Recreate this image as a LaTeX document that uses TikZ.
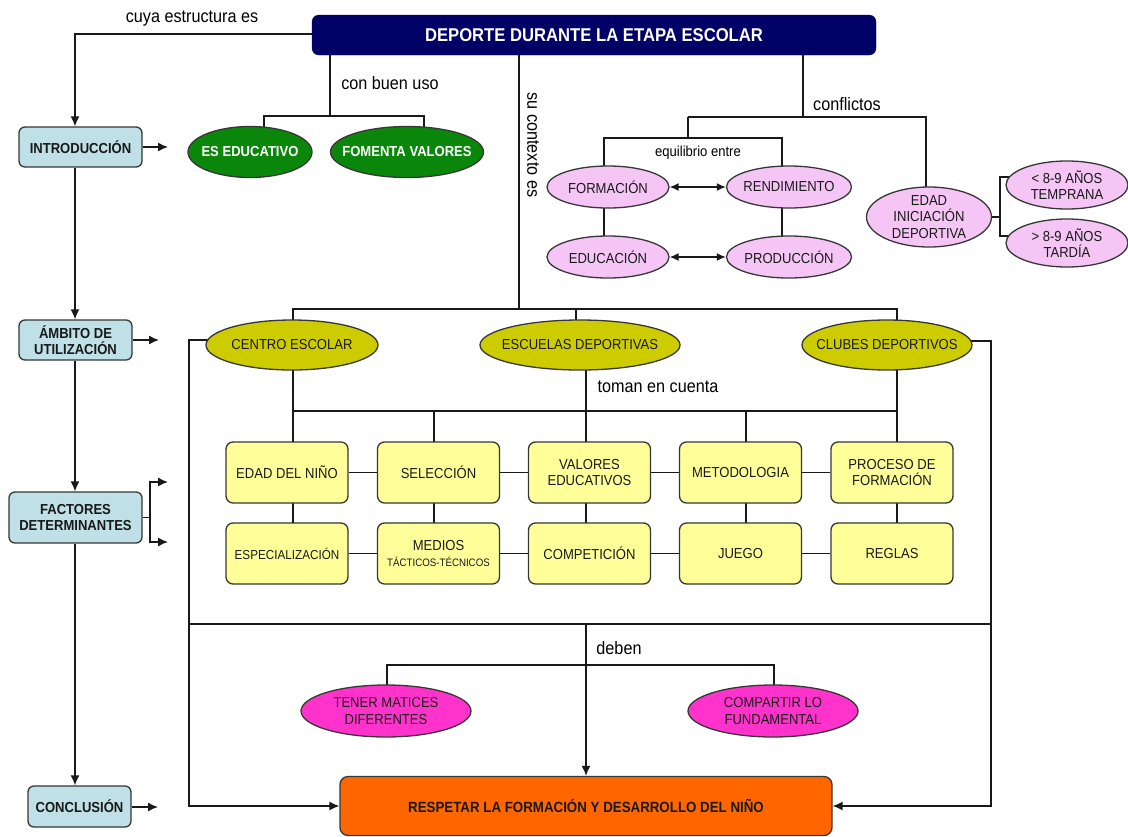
\documentclass[tikz,border=0pt]{standalone}
\usepackage{fontspec}
\setmainfont{Liberation Sans}[FakeStretch=0.9]
\usetikzlibrary{arrows.meta,shapes.geometric}
\pgfdeclarelayer{bg}
\pgfdeclarelayer{paper}
\pgfsetlayers{paper,bg,main}
\definecolor{navyc}{RGB}{0,0,102}
\definecolor{lbluec}{RGB}{190,224,230}
\definecolor{greenc}{RGB}{10,135,10}
\definecolor{pinkc}{RGB}{245,198,245}
\definecolor{olivec}{RGB}{204,204,0}
\definecolor{yellc}{RGB}{255,255,153}
\definecolor{magc}{RGB}{255,51,204}
\definecolor{orangec}{RGB}{255,102,0}
\definecolor{linec}{RGB}{25,25,25}
\definecolor{bordc}{RGB}{55,55,55}
\definecolor{txtc}{RGB}{25,25,25}
\tikzset{
  conn/.style={draw=linec, line width=1.4pt},
  arr/.style={conn, -{Latex[length=10pt,width=9pt]}},
  dbl/.style={conn, {Latex[length=9pt,width=8pt]}-{Latex[length=9pt,width=8pt]}},
  lbl/.style={font=\fontsize{18}{20}\selectfont, inner sep=0pt, text=black},
  titlebox/.style={draw=navyc, fill=navyc, rounded corners=7pt, text=white, inner sep=0pt,
    font=\bfseries\fontsize{18.5}{20}\selectfont, minimum width=564pt, minimum height=40pt},
  sidebox/.style={draw=bordc, fill=lbluec, line width=1.3pt, rounded corners=6pt, text=txtc,
    font=\bfseries\fontsize{14.5}{16.5}\selectfont, align=center, inner sep=0pt},
  ellbase/.style={ellipse, draw=bordc, line width=1.3pt, inner xsep=-30pt, inner ysep=-10pt,
    align=center, text=txtc, font=\fontsize{14.5}{16.5}\selectfont},
  greenell/.style={ellbase, fill=greenc, text=white, font=\bfseries\fontsize{14.5}{16.5}\selectfont, minimum height=51pt},
  pinkell/.style={ellbase, fill=pinkc, minimum height=42pt},
  oliveell/.style={ellbase, fill=olivec, minimum height=50pt},
  magell/.style={ellbase, fill=magc, minimum width=170pt, minimum height=52pt},
  ybox/.style={draw=bordc, fill=yellc, line width=1.3pt, rounded corners=7pt, minimum width=122pt,
    minimum height=61pt, inner sep=0pt, align=center, text=txtc, font=\fontsize{14.5}{16.5}\selectfont},
  orangebox/.style={draw=bordc, fill=orangec, line width=1.3pt, rounded corners=8pt, minimum width=492pt,
    minimum height=59pt, inner sep=0pt, text=txtc, font=\bfseries\fontsize{14.8}{16.5}\selectfont}
}
\begin{document}
\begin{tikzpicture}[x=1pt,y=-1pt]
\useasboundingbox (0,0) rectangle (1128,836);
\begin{pgfonlayer}{paper}
\fill[white] (0,0) rectangle (1128,836);
\end{pgfonlayer}

% ---------- nodes ----------
\node[titlebox] (title) at (594,35) {DEPORTE DURANTE LA ETAPA ESCOLAR};

\node[sidebox, minimum width=123pt, minimum height=40pt] (intro) at (80.5,147) {INTRODUCCIÓN};
\node[sidebox, minimum width=113pt, minimum height=40pt] (ambito) at (75.5,340) {ÁMBITO DE\\UTILIZACIÓN};
\node[sidebox, minimum width=133pt, minimum height=51pt] (factores) at (75.5,517.5) {FACTORES\\DETERMINANTES};
\node[sidebox, minimum width=103pt, minimum height=41pt] (conclusion) at (79.5,806.5) {CONCLUSIÓN};

\node[greenell, minimum width=124pt] (eseduc) at (250,152) {ES EDUCATIVO};
\node[greenell, minimum width=153pt] (fomenta) at (407,152) {FOMENTA VALORES};

\node[pinkell, minimum width=122pt] (formacion) at (608,187) {FORMACIÓN};
\node[pinkell, minimum width=125pt] (rendimiento) at (789,187) {RENDIMIENTO};
\node[pinkell, minimum width=122pt] (educacion) at (608,257) {EDUCACIÓN};
\node[pinkell, minimum width=125pt] (produccion) at (789,257) {PRODUCCIÓN};
\node[pinkell, minimum width=125pt, minimum height=60pt] (edad) at (929,217) {EDAD\\INICIACIÓN\\DEPORTIVA};
\node[pinkell, minimum width=122pt, minimum height=48pt] (temprana) at (1067,185) {< 8-9 AÑOS\\TEMPRANA};
\node[pinkell, minimum width=122pt, minimum height=48pt] (tardia) at (1067,243) {> 8-9 AÑOS\\TARDÍA};

\node[oliveell, minimum width=172pt] (centro) at (292,345) {CENTRO ESCOLAR};
\node[oliveell, minimum width=200pt] (escuelas) at (580,345) {ESCUELAS DEPORTIVAS};
\node[oliveell, minimum width=170pt] (clubes) at (887,345) {CLUBES DEPORTIVOS};

\node[ybox] (edadn) at (287,472.5) {EDAD DEL NIÑO};
\node[ybox] (seleccion) at (438.5,472.5) {SELECCIÓN};
\node[ybox] (valores) at (589.5,472.5) {VALORES\\EDUCATIVOS};
\node[ybox] (metodologia) at (740.5,472.5) {METODOLOGIA};
\node[ybox] (proceso) at (892,472.5) {PROCESO DE\\FORMACIÓN};

\node[ybox, font=\fontsize{13}{15}\selectfont] (especial) at (287,553.5) {ESPECIALIZACIÓN};
\node[ybox] (medios) at (438.5,553.5) {MEDIOS\\[-1pt]{\fontsize{10.8}{12}\selectfont TÁCTICOS-TÉCNICOS}};
\node[ybox] (competicion) at (589.5,553.5) {COMPETICIÓN};
\node[ybox] (juego) at (740.5,553.5) {JUEGO};
\node[ybox] (reglas) at (892,553.5) {REGLAS};

\node[magell] (tener) at (386,711) {TENER MATICES\\DIFERENTES};
\node[magell] (compartir) at (773,711) {COMPARTIR LO\\FUNDAMENTAL};

\node[orangebox] (respetar) at (586,806) {RESPETAR LA FORMACIÓN Y DESARROLLO DEL NIÑO};

% ---------- labels ----------
\node[lbl] (lcuya) at (192,19) {cuya estructura es};
\node[lbl] (lbuen) at (390,83) {con buen uso};
\node[lbl, rotate=-90] (lctx) at (533,145) {su contexto es};
\node[lbl] (lconf) at (847,104) {conflictos};
\node[lbl, font=\fontsize{14.5}{16}\selectfont] (lequi) at (698,153) {equilibrio entre};
\node[lbl] (ltoman) at (658,387) {toman en cuenta};
\node[lbl] (ldeben) at (619,648) {deben};

% ---------- helper coordinates ----------
\coordinate (spine) at (75,0);
\coordinate (a0) at (330,116); \coordinate (a1) at (264,116); \coordinate (a2) at (424,116);
\coordinate (b0) at (519,309); \coordinate (b1) at (293,309); \coordinate (b2) at (576,309); \coordinate (b3) at (897,309);
\coordinate (c0) at (803,117); \coordinate (c1) at (688,117); \coordinate (c2) at (926,117);
\coordinate (d0) at (688,138); \coordinate (d1) at (604,138); \coordinate (d2) at (782,138);
\coordinate (e0) at (1000,217); \coordinate (e1) at (1000,177); \coordinate (e2) at (1000,236);
\coordinate (f1) at (293,411); \coordinate (f2) at (434,411); \coordinate (f3) at (586,411);
\coordinate (f4) at (746,411); \coordinate (f5) at (897,411);
\coordinate (g1) at (189,340); \coordinate (g2) at (991,341);
\coordinate (h0) at (586,624); \coordinate (h1) at (189,624); \coordinate (h2) at (991,624);
\coordinate (k1) at (387,665); \coordinate (k2) at (774,665);
\coordinate (t1) at (168,147); \coordinate (t2) at (159,340);
\coordinate (fb) at (150,517.5); \coordinate (fb1) at (150,482); \coordinate (fb2) at (150,542);
\coordinate (ft1) at (168,482); \coordinate (ft2) at (168,542);
\coordinate (t4) at (158,807);

% ---------- connectors ----------
\begin{pgfonlayer}{bg}
% left spine
\draw[arr] (title.west |- 0,34) -| (spine |- intro.north);
\draw[arr] (spine |- intro.south) -- (spine |- ambito.north);
\draw[arr] (spine |- ambito.south) -- (spine |- factores.north);
\draw[arr] (spine |- factores.south) -- (spine |- conclusion.north);
\draw[arr] (intro.east) -- (t1);
\draw[arr] (ambito.east) -- (t2);
\draw[conn] (factores.east) -- (fb);
\draw[arr] (fb) -- (fb1) -- (ft1);
\draw[arr] (fb) -- (fb2) -- (ft2);
\draw[arr] (conclusion.east |- t4) -- (t4);
% con buen uso
\draw[conn] (title.south -| a0) -- (a0);
\draw[conn] (a1 |- eseduc.center) -- (a1) -- (a2) -- (a2 |- fomenta.center);
% su contexto es
\draw[conn] (title.south -| b0) -- (b0);
\draw[conn] (b1 |- centro.center) -- (b1) -- (b3) -- (b3 |- clubes.center);
\draw[conn] (b2) -- (b2 |- escuelas.center);
% conflictos
\draw[conn] (title.south -| c0) -- (c0);
\draw[conn] (c1) -- (c2) -- (c2 |- edad.center);
\draw[conn] (c1) -- (d0);
\draw[conn] (d1 |- formacion.center) -- (d1) -- (d2) -- (d2 |- rendimiento.center);
\draw[conn] (d1 |- formacion.center) -- (d1 |- educacion.center);
\draw[conn] (d2 |- rendimiento.center) -- (d2 |- produccion.center);
\draw[conn] (edad.center) -- (e0);
\draw[conn] (e1 -| temprana.center) -- (e1) -- (e2) -- (e2 -| tardia.center);
% factores
\draw[conn] (f1) -- (f5);
\draw[conn] (f1 |- centro.center) -- (f1 |- especial.center);
\draw[conn] (f3 |- escuelas.center) -- (f3 |- competicion.center);
\draw[conn] (f5 |- clubes.center) -- (f5 |- reglas.center);
\draw[conn] (f2) -- (f2 |- medios.center);
\draw[conn] (f4) -- (f4 |- juego.center);
\draw[conn] (edadn) -- (seleccion) -- (valores) -- (metodologia) -- (proceso);
\draw[conn] (especial) -- (medios) -- (competicion) -- (juego) -- (reglas);
% frame
\draw[arr] (centro.center |- g1) -- (g1) |- (respetar.west);
\draw[arr] (clubes.center |- g2) -- (g2) |- (respetar.east);
\draw[conn] (h1) -- (h2);
\draw[arr] (h0) -- (respetar.north);
\draw[conn] (k1 |- tener.center) -- (k1) -- (k2) -- (k2 |- compartir.center);
\end{pgfonlayer}
\draw[dbl] (formacion.east) -- (rendimiento.west);
\draw[dbl] (educacion.east) -- (produccion.west);
\end{tikzpicture}
\end{document}
